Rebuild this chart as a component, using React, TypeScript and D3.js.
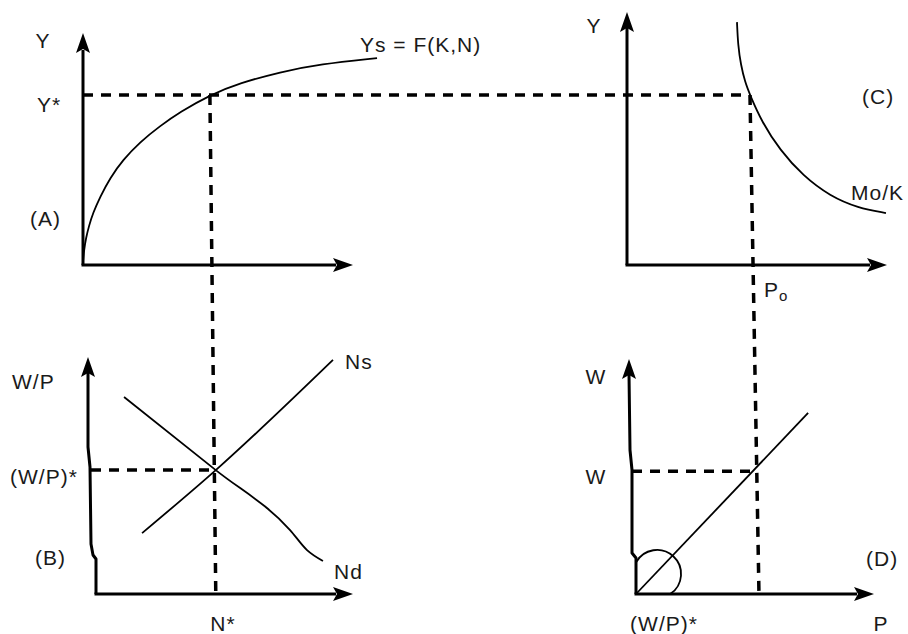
import React from 'react';
import * as d3 from 'd3';

// (A) production function Ys = F(K,N): points, [N, Y]
const prodCurve: [number, number][] = [
  [0, 0.13], [0.04, 0.65], [0.11, 1.16], [0.22, 1.68], [0.37, 2.24], [0.63, 2.93],
  [1.0, 3.75], [1.48, 4.53], [2.11, 5.3], [2.85, 5.99], [3.59, 6.59], [4.7, 7.33],
  [5.81, 7.84], [7.3, 8.32], [8.78, 8.66], [10.89, 8.92],
];
// (C) Mo/K hyperbola, [P, Y]
const moCurve: [number, number][] = [
  [4.23, 10.47], [4.27, 9.48], [4.38, 8.62], [4.54, 7.89], [4.73, 7.33], [5.19, 6.16],
  [5.88, 4.96], [6.77, 3.84], [7.81, 2.97], [8.88, 2.46], [9.96, 2.24],
];
// (B) labour market, [N, W/P]
const nsLine: [number, number][] = [[1.83, 2.58], [4.7, 5.25], [9.26, 9.92]];
const ndLine: [number, number][] = [[1.13, 8.35], [4.7, 5.25], [7.59, 2.71], [8.25, 1.86], [8.87, 1.4]];
// (D) W = (W/P)* . P, [P, W]
const wLine: [number, number][] = [[0, 0], [6.62, 7.67]];

// equilibrium values
const nStar = 4.7;
const yStar = 7.33;
const pZero = 4.73;
const wpStar = 5.25;
const wLevel = 5.2;
const pAtW = 4.49;

const axisLabels = { yA: 'Y', yC: 'Y', wpB: 'W/P', wD: 'W', p: 'P' };
const tickLabels = { yStar: 'Y*', wpStar: '(W/P)*', nStar: 'N*', w: 'W', slope: '(W/P)*', p0: 'P' };
const curveLabels = { prod: 'Ys = F(K,N)', mo: 'Mo/K', ns: 'Ns', nd: 'Nd' };
const panelLabels = ['(A)', '(B)', '(C)', '(D)'];

const W = 908;
const H = 634;

// scales, one per panel axis
const nA = d3.scaleLinear().domain([0, 10]).range([83, 353]);
const yY = d3.scaleLinear().domain([0, 10]).range([265, 33]);
const pC = d3.scaleLinear().domain([0, 10]).range([627, 887]);
const nB = d3.scaleLinear().domain([0, 10]).range([95, 352]);
const wpB = d3.scaleLinear().domain([0, 10]).range([594, 358]);
const pD = d3.scaleLinear().domain([0, 10]).range([636, 896]);

const arrow = (x: number, y: number, dir: 'up' | 'right') => {
  const len = 20, half = 7, notch = 4;
  if (dir === 'up') {
    return `M${x},${y} L${x + half},${y + len} L${x},${y + len - notch} L${x - half},${y + len} Z`;
  }
  return `M${x},${y} L${x - len},${y - half} L${x - len + notch},${y} L${x - len},${y + half} Z`;
};

const font = '"Liberation Sans", Arial, Helvetica, sans-serif';
const dash = { stroke: '#000', strokeWidth: 3.5, strokeDasharray: '10 8', fill: 'none' };
const axis = { stroke: '#000', strokeWidth: 3, fill: 'none' };
const curve = { stroke: '#000', strokeWidth: 1.8, fill: 'none' };

export default function App() {
  const lineA = d3.line<[number, number]>().x(d => nA(d[0])).y(d => yY(d[1])).curve(d3.curveBasis);
  const lineC = d3.line<[number, number]>().x(d => pC(d[0])).y(d => yY(d[1])).curve(d3.curveBasis);
  const lineB = d3.line<[number, number]>().x(d => nB(d[0])).y(d => wpB(d[1])).curve(d3.curveMonotoneX);
  const lineD = d3.line<[number, number]>().x(d => pD(d[0])).y(d => wpB(d[1]));

  const arcPath = d3.arc()({
    innerRadius: 24, outerRadius: 24,
    startAngle: (-61 * Math.PI) / 180, endAngle: (146 * Math.PI) / 180,
  } as any) as string;

  // hand-drawn vertical axes of the lower panels
  const yAxisB = d3.line()([[88, 372], [88, 447], [90, 467], [91, 544], [93, 555], [96, 559], [96, 594]]) as string;
  const yAxisD = d3.line()([[629, 374], [630, 450], [632, 470], [632, 553], [636, 558], [636, 594]]) as string;

  return (
    <svg width={W} height={H} viewBox={`0 0 ${W} ${H}`}
      style={{ position: 'absolute', left: 0, top: 0, background: '#fff' }}>
      <rect width={W} height={H} fill="#fff" />

      {/* dashed guide lines */}
      <line x1={nA(0)} y1={yY(yStar)} x2={pC(pZero)} y2={yY(yStar)} {...dash} />
      <line x1={nA(nStar)} y1={yY(yStar)} x2={nB(nStar)} y2={wpB(0)} {...dash} />
      <line x1={pC(pZero)} y1={yY(yStar)} x2={pD(pZero)} y2={wpB(0)} {...dash} />
      <line x1={91} y1={wpB(wpStar)} x2={nB(nStar)} y2={wpB(wpStar)} {...dash} />
      <line x1={632} y1={wpB(wLevel)} x2={pD(pAtW)} y2={wpB(wLevel)} {...dash} />

      {/* panel A axes */}
      <line x1={nA(0)} y1={yY(0)} x2={nA(0)} y2={50} {...axis} />
      <path d={arrow(nA(0), 33, 'up')} fill="#000" />
      <line x1={nA(0) - 1.5} y1={yY(0)} x2={336} y2={yY(0)} {...axis} />
      <path d={arrow(353, yY(0), 'right')} fill="#000" />

      {/* panel C axes */}
      <line x1={pC(0)} y1={yY(0)} x2={pC(0)} y2={28} {...axis} />
      <path d={arrow(pC(0), 12, 'up')} fill="#000" />
      <line x1={pC(0) - 1.5} y1={yY(0)} x2={870} y2={yY(0)} {...axis} />
      <path d={arrow(887, yY(0), 'right')} fill="#000" />

      {/* panel B axes */}
      <path d={yAxisB} {...axis} strokeLinejoin="round" />
      <path d={arrow(88, 357, 'up')} fill="#000" />
      <line x1={94.5} y1={wpB(0)} x2={336} y2={wpB(0)} {...axis} />
      <path d={arrow(353, wpB(0), 'right')} fill="#000" />

      {/* panel D axes */}
      <path d={yAxisD} {...axis} strokeLinejoin="round" />
      <path d={arrow(629, 359, 'up')} fill="#000" />
      <line x1={634.5} y1={wpB(0)} x2={857} y2={wpB(0)} {...axis} />
      <path d={arrow(874, wpB(0), 'right')} fill="#000" />

      {/* curves */}
      <path d={lineA(prodCurve) as string} {...curve} />
      <path d={lineC(moCurve) as string} {...curve} />
      <path d={lineB(nsLine) as string} {...curve} />
      <path d={lineB(ndLine) as string} {...curve} />
      <path d={lineD(wLine) as string} {...curve} />
      <path d={arcPath} transform={`translate(${pD(0.81)},${wpB(0.85)})`} {...curve} />

      {/* text */}
      <g fontFamily={font} fontSize={21} fill="#1a1a1a" letterSpacing={1}>
        <text x={43} y={48} textAnchor="middle">{axisLabels.yA}</text>
        <text x={37} y={112}>{tickLabels.yStar}</text>
        <text x={30} y={226}>{panelLabels[0]}</text>
        <text x={360} y={52}>{curveLabels.prod}</text>

        <text x={594} y={33} textAnchor="middle">{axisLabels.yC}</text>
        <text x={862} y={104}>{panelLabels[2]}</text>
        <text x={851} y={200}>{curveLabels.mo}</text>
        <text x={764} y={297}>{tickLabels.p0}<tspan fontSize={15} dy={4}>o</tspan></text>

        <text x={12} y={389}>{axisLabels.wpB}</text>
        <text x={10} y={484}>{tickLabels.wpStar}</text>
        <text x={35} y={565}>{panelLabels[1]}</text>
        <text x={345} y={369}>{curveLabels.ns}</text>
        <text x={334} y={579}>{curveLabels.nd}</text>
        <text x={223} y={631} textAnchor="middle">{tickLabels.nStar}</text>

        <text x={596} y={384} textAnchor="middle">{axisLabels.wD}</text>
        <text x={596} y={484} textAnchor="middle">{tickLabels.w}</text>
        <text x={866} y={566}>{panelLabels[3]}</text>
        <text x={664} y={631} textAnchor="middle">{tickLabels.slope}</text>
        <text x={881} y={631} textAnchor="middle">{axisLabels.p}</text>
      </g>
    </svg>
  );
}
